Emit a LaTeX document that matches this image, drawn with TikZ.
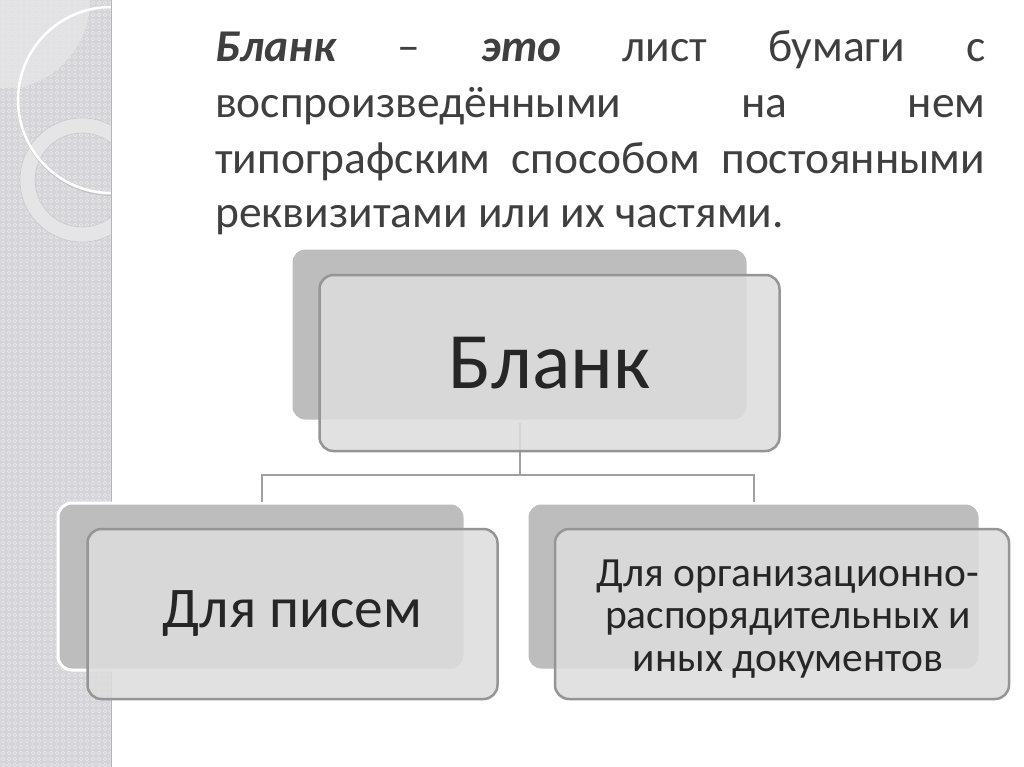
\documentclass[tikz,border=0pt]{standalone}
\usepackage{fontspec}
\setmainfont{Carlito}
\definecolor{strip}{HTML}{D5D5D9}
\definecolor{striplight}{HTML}{E2E2E4}
\definecolor{dotc}{HTML}{E6E6E9}
\definecolor{ringc}{HTML}{E5E5E7}
\definecolor{backc}{HTML}{BDBDBD}
\definecolor{frontc}{HTML}{DDDDDD}
\definecolor{edgec}{HTML}{959595}
\definecolor{txt}{HTML}{3F3F3F}
\definecolor{boxtxt}{HTML}{262626}
\definecolor{linec}{HTML}{A0A0A0}
\begin{document}
\begin{tikzpicture}[x=1pt,y=-1pt,
  backbox/.style={rounded corners=14pt, fill=backc, draw=white, line width=3pt, inner sep=0pt},
  frontbox/.style={rounded corners=14pt, fill=frontc, fill opacity=0.87, text opacity=1, draw=edgec, line width=2.5pt, inner sep=0pt, text=boxtxt, align=center},
  boxtext/.style={inner sep=0pt, text=boxtxt, align=center},
  para/.style={anchor=base west, inner sep=0pt, text=txt, font=\fontsize{45.5}{53}\selectfont},
  conn/.style={draw=linec, line width=2pt}]
\useasboundingbox (0,0) rectangle (1024,767);
\fill[white] (0,0) rectangle (1024,767);
% left decorative strip
\begin{scope}
  \clip (0,0) rectangle (111,767);
  \fill[strip] (0,0) rectangle (111,767);
  \fill[striplight] (0,0) -- (90,0) arc[start angle=0, end angle=75.5, radius=90] -- (0,88) -- cycle;
  \foreach \i in {0,...,18} {
    \foreach \j in {0,...,128} {
      \draw[dotc, line width=0.6pt] ({\i*6+3},{\j*6+3}) circle (1.9);
    }
  }
  \fill[ringc, even odd rule] (82,180) circle (62) (82,180) circle (47);
  \draw[strip!85!black, line width=0.6pt, opacity=0.5] (82,180) circle (62) (82,180) circle (47);
  \draw[strip!80!black, line width=1pt, opacity=0.5] (112,101) circle (94.5);
  \draw[white, line width=2.5pt] (111,100) circle (93);
\end{scope}
\draw[strip!85!black, line width=1pt] (111,0) -- (111,767);
% paragraph
\node[para] (l1) at (215,62) {\makebox[770pt][s]{\textbf{\textit{Бланк}} – \textbf{\textit{это}} лист бумаги с}};
\node[para] (l2) at (215,118) {\makebox[770pt][s]{воспроизведёнными на нем}};
\node[para] (l3) at (215,174) {\makebox[770pt][s]{типографским способом постоянными}};
\node[para] (l4) at (215,227) {реквизитами или их частями.};
% back boxes
\node[backbox, minimum width=457pt, minimum height=173pt] (bt) at (519.5,334.5) {};
\node[backbox, minimum width=407pt, minimum height=167pt] (bl) at (261.5,586.5) {};
\node[backbox, minimum width=453pt, minimum height=167pt] (br) at (753.5,586.5) {};
% connectors
\coordinate (hub) at (519.5,475);
\draw[conn] (bt.south) -- (hub);
\draw[conn] (bl.north) -- (bl.north |- hub) -- (br.north |- hub) -- (br.north);
% front boxes
\node[frontbox, minimum width=460pt, minimum height=176pt, font=\fontsize{80}{82}\selectfont] (ft) at (549.5,363) {Бланк};
\node[frontbox, minimum width=410pt, minimum height=170pt, font=\fontsize{57.5}{60}\selectfont] (fl) at (292.5,614) {Для писем};
\node[frontbox, minimum width=454pt, minimum height=170pt] (fr) at (782,614) {};
\node[boxtext, font=\fontsize{41.5}{42.5}\selectfont] (frt) at (788,619) {Для организационно-\\распорядительных и\\иных документов};
\end{tikzpicture}
\end{document}
